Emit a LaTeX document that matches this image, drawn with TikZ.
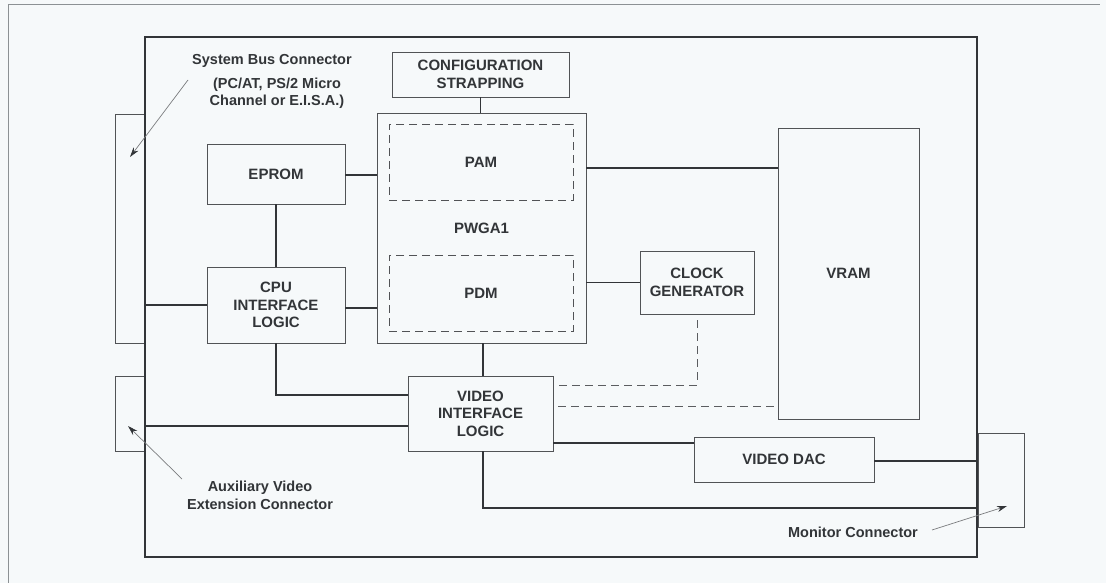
\documentclass[tikz,border=0pt]{standalone}
\usepackage{fontspec}
\setmainfont{Liberation Sans}
\usetikzlibrary{arrows.meta,calc}
\definecolor{ink}{RGB}{50,53,56}
\definecolor{paper}{RGB}{246,249,250}
\definecolor{frame}{RGB}{140,145,148}
\begin{document}
\begin{tikzpicture}[x=1pt,y=-1pt,
  box/.style={draw=ink!85,line width=0.9pt,fill=paper,inner sep=0pt,align=center,
    font=\fontsize{15}{17.5}\selectfont\bfseries,text=ink},
  dbox/.style={box,dashed,dash pattern=on 8pt off 5pt},
  wire/.style={draw=ink,line width=1.9pt},
  dwire/.style={draw=ink!80,line width=1pt,dash pattern=on 8pt off 5pt},
  lbl/.style={align=center,font=\fontsize{14.5}{17.5}\selectfont\bfseries,text=ink,inner sep=0pt},
  pointer/.style={draw=ink!65,line width=0.7pt,-{Stealth[length=10pt,width=6pt,color=ink]}}]
\useasboundingbox[fill=paper] (0,0) rectangle (1106,583);
% outer frame
\draw[frame,line width=1pt] (8,583) -- (8,5) -- (1100,5);
% board
\node[box,draw=ink,line width=2pt,fill=none,minimum width=832pt,minimum height=520pt] (board) at (561,297) {};
% connectors on board edge
\node[box,minimum width=30pt,minimum height=229pt] (sbc) at (130,228.5) {};
\node[box,minimum width=30pt,minimum height=75pt] (aux) at (130,413.5) {};
\node[box,minimum width=46pt,minimum height=94pt] (mon) at (1001,480) {};
\draw[ink,line width=2pt] (145,37) -- (145,557);
\draw[ink,line width=2pt] (977,37) -- (977,557);
% blocks
\node[box,minimum width=177pt,minimum height=45pt] (cfg) at (480.5,74.5) {CONFIGURATION\\STRAPPING};
\node[box,minimum width=209pt,minimum height=230pt] (pwga) at (481.5,228) {PWGA1};
\node[dbox,fill=none,minimum width=184pt,minimum height=76pt] (pam) at (481,162) {PAM};
\node[dbox,fill=none,minimum width=184pt,minimum height=76pt] (pdm) at (481,293) {PDM};
\node[box,minimum width=138pt,minimum height=60pt] (eprom) at (276,174) {EPROM};
\node[box,minimum width=138pt,minimum height=76pt] (cpu) at (276,305) {CPU\\INTERFACE\\LOGIC};
\node[box,minimum width=145pt,minimum height=75pt] (vil) at (480.5,413.5) {VIDEO\\INTERFACE\\LOGIC};
\node[box,minimum width=114pt,minimum height=63pt] (clk) at (697,282.5) {CLOCK\\GENERATOR};
\node[box,minimum width=141pt,minimum height=291pt] (vram) at (848.5,273.5) {VRAM};
\node[box,minimum width=180pt,minimum height=45pt] (dac) at (784,459.5) {VIDEO DAC};
% wires
\draw[wire] (cfg.south) -- (cfg.south |- pwga.north);
\draw[wire] ([yshift=-1pt]eprom.east) -- ([yshift=-1pt]eprom.east -| pwga.west);
\draw[wire] (eprom.south) -- (cpu.north);
\draw[wire] (cpu.west) -- (cpu.west -| board.west);
\draw[wire] ([yshift=-3pt]cpu.east) -- ([yshift=-3pt]cpu.east -| pwga.west);
\draw[wire] (cpu.south) |- ([yshift=18.5pt]vil.west);
\draw[wire] ([yshift=-12.5pt]vil.west) -- ([yshift=-12.5pt]vil.west -| board.west);
\draw[wire] ([xshift=1.5pt]pwga.south) -- ([xshift=1.5pt]pwga.south |- vil.north);
\draw[wire] ([yshift=-6pt]pam.east -| pwga.east) -- ([yshift=-6pt]pam.east -| vram.west);
\draw[wire] (clk.west) -- (clk.west -| pwga.east);
\draw[wire] ([yshift=-29.5pt]vil.east) -- ([yshift=-29.5pt]vil.east -| dac.west);
\draw[wire] ([yshift=-1.5pt]dac.east) -- ([yshift=-1.5pt]dac.east -| board.east);
\coordinate (vilbus) at (977,508);
\draw[wire] ([xshift=2.5pt]vil.south) |- (vilbus);
\draw[dwire] ([yshift=-6pt]clk.south) |- ([xshift=5pt,yshift=28.5pt]vil.east);
\draw[dwire] ([xshift=5pt,yshift=7.5pt]vil.east) -- ([xshift=-3pt,yshift=7.5pt]vil.east -| vram.west);
% annotations
\node[lbl] (sbcl) at (272,61) {System Bus Connector};
\node[lbl] (sbcl2) at (277,93.5) {(PC/AT, PS/2 Micro\\Channel or E.I.S.A.)};
\coordinate (sbctip) at (130,157);
\coordinate (sbcstart) at (188,80);
\draw[pointer] (sbcstart) -- (sbctip);
\node[lbl] (auxl) at (260,495.5) {Auxiliary Video\\Extension Connector};
\coordinate (auxtip) at (128,426);
\coordinate (auxstart) at (182,479);
\draw[pointer] (auxstart) -- (auxtip);
\node[lbl] (monl) at (853,532) {Monitor Connector};
\coordinate (montip) at (1007,506);
\coordinate (monstart) at (932,530);
\draw[pointer] (monstart) -- (montip);
\end{tikzpicture}
\end{document}
